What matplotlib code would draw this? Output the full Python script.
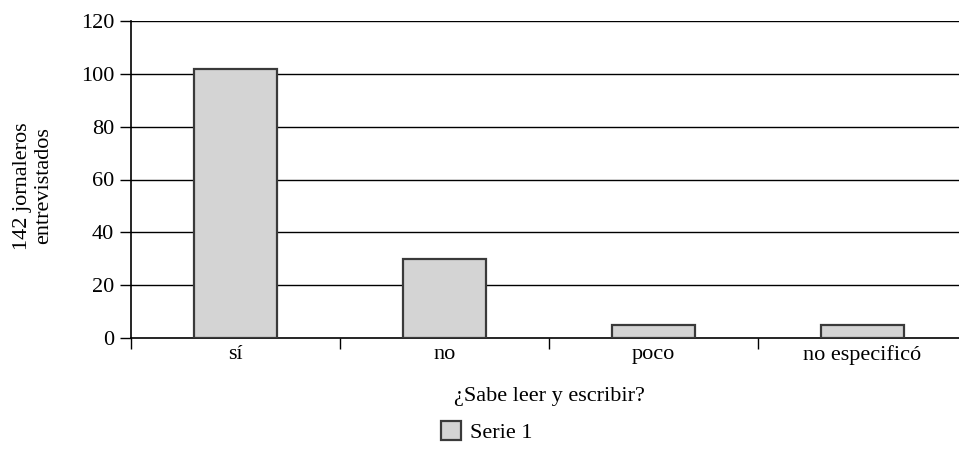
import matplotlib
matplotlib.use("Agg")
import matplotlib.pyplot as plt
from matplotlib.patches import Patch

categories = ["sí", "no", "poco", "no especificó"]
values = [102, 30, 5, 5]
series_name = "Serie 1"
y_ticks = [0, 20, 40, 60, 80, 100, 120]

plt.rcParams["font.family"] = ["Liberation Serif", "DejaVu Serif"]
fs = 16

fig = plt.figure(figsize=(9.59, 4.49), dpi=100)
# the plot area runs slightly past the right edge of the figure
ax = fig.add_axes([131 / 959, 1 - 338 / 449, 836 / 959, 317 / 449])

x = list(range(len(categories)))
ax.bar(x, values, width=0.4, color="#d4d4d4", edgecolor="#3a3a3a",
       linewidth=1.6, zorder=3)

ax.set_xlim(-0.5, len(categories) - 0.5)
ax.set_ylim(0, 120)
ax.set_yticks(y_ticks)
ax.set_yticklabels([str(t) for t in y_ticks], fontsize=fs)
for t in y_ticks[1:]:
    ax.axhline(t, color="black", linewidth=1.0, zorder=1)

# category labels centred between boundary tick marks
ax.set_xticks([i - 0.5 for i in range(len(categories) + 1)])
ax.set_xticklabels([])
ax.set_xticks(x, minor=True)
ax.set_xticklabels(categories, minor=True, fontsize=fs)
ax.tick_params(axis="x", which="minor", length=0, pad=5)
ax.tick_params(axis="x", which="major", length=8, width=1.0, direction="out")
ax.tick_params(axis="y", length=8, width=1.0, direction="out", pad=4)

for side in ("top", "right"):
    ax.spines[side].set_visible(False)
ax.spines["left"].set_linewidth(1.2)
ax.spines["bottom"].set_linewidth(1.2)

ax.set_xlabel("¿Sabe leer y escribir?", fontsize=fs, labelpad=16)
fig.text(33 / 959, 1 - 186 / 449, "142 jornaleros\nentrevistados",
         rotation=90, ha="center", va="center", fontsize=fs, linespacing=1.1)

fig.legend(handles=[Patch(facecolor="#d4d4d4", edgecolor="#3a3a3a",
                          linewidth=1.6, label=series_name)],
           loc="center", bbox_to_anchor=(487 / 959, 1 - 432 / 449),
           frameon=False, fontsize=fs, handlelength=0.9, handleheight=0.9,
           handletextpad=0.4)

fig.savefig("out.png", dpi=100)
